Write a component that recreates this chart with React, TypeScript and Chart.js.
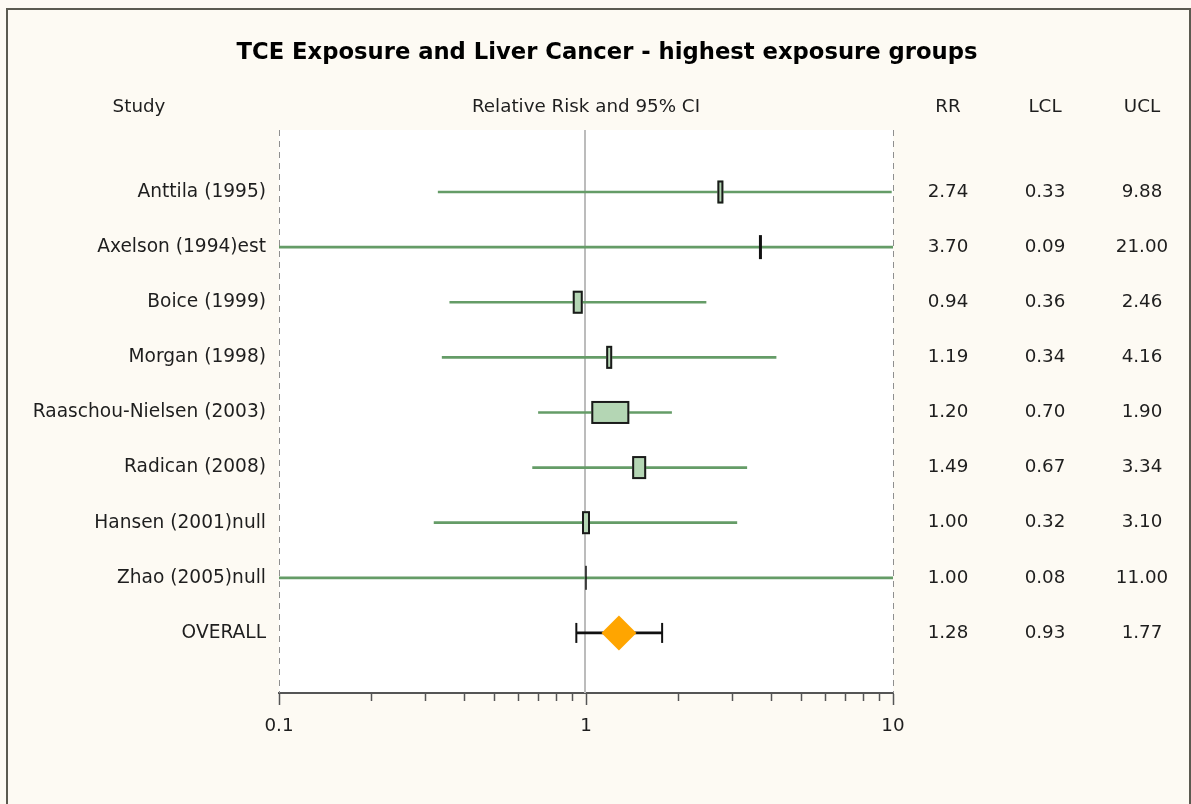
import React, { useEffect, useRef } from 'react';
import { Chart, registerables } from 'chart.js';

Chart.register(...registerables);

// ---- data ----
const studies = [
  'Anttila (1995)',
  'Axelson (1994)est',
  'Boice (1999)',
  'Morgan (1998)',
  'Raaschou-Nielsen (2003)',
  'Radican (2008)',
  'Hansen (2001)null',
  'Zhao (2005)null',
  'OVERALL',
];
const rr = [2.74, 3.7, 0.94, 1.19, 1.2, 1.49, 1.0, 1.0, 1.28];
const lcl = [0.33, 0.09, 0.36, 0.34, 0.7, 0.67, 0.32, 0.08, 0.93];
const ucl = [9.88, 21.0, 2.46, 4.16, 1.9, 3.34, 3.1, 11.0, 1.77];
// relative study weights (box size)
const weights = [6, 3, 10, 6, 38, 14, 8, 1.5];
const majorTicks = [0.1, 1, 10];
const minorTicks = [0.2, 0.3, 0.4, 0.5, 0.6, 0.7, 0.8, 0.9, 2, 3, 4, 5, 6, 7, 8, 9];
const columnHeaders = ['RR', 'LCL', 'UCL'];
const chartTitle = 'TCE Exposure and Liver Cancer - highest exposure groups';
const studyHeader = 'Study';
const ciHeader = 'Relative Risk and 95% CI';

const FONT = '"DejaVu Sans", sans-serif';
const TEXT = '#1e1e1e';
const GREEN = '#659c67';
const BOX_FILL = '#b4d6b4';
const ORANGE = '#ffa500';

const nStudies = weights.length;
const overallRow = studies.length; // 1-based row index

const forestPlugin = {
  id: 'forest',
  beforeDraw(chart: any) {
    const { ctx, width, height, chartArea: a } = chart;
    ctx.save();
    ctx.fillStyle = '#fdfaf3';
    ctx.fillRect(0, 0, width, height);
    ctx.strokeStyle = '#5b5a50';
    ctx.lineWidth = 2;
    ctx.strokeRect(7, 9, width - 8, height + 20);
    ctx.fillStyle = '#ffffff';
    ctx.fillRect(a.left, a.top, a.right - a.left, a.bottom - a.top);
    ctx.restore();
  },
  beforeDatasetsDraw(chart: any) {
    const { ctx, chartArea: a, scales } = chart;
    const x = scales.x;
    ctx.save();
    // reference line at 1
    ctx.strokeStyle = '#bcbcbc';
    ctx.lineWidth = 2;
    const px1 = Math.round(x.getPixelForValue(1)) - 1;
    ctx.beginPath();
    ctx.moveTo(px1, a.top);
    ctx.lineTo(px1, a.bottom);
    ctx.stroke();
    // dashed lines at the range ends
    ctx.strokeStyle = '#8f8f8f';
    ctx.lineWidth = 1;
    ctx.setLineDash([6, 5]);
    [majorTicks[0], majorTicks[majorTicks.length - 1]].forEach((v) => {
      const p = Math.round(x.getPixelForValue(v)) + 0.5;
      ctx.beginPath();
      ctx.moveTo(p, a.top);
      ctx.lineTo(p, a.bottom);
      ctx.stroke();
    });
    ctx.restore();
  },
  afterDatasetsDraw(chart: any) {
    const { ctx, scales } = chart;
    const x = scales.x;
    const y = scales.y;
    const h = 23;
    ctx.save();
    for (let i = 0; i < nStudies; i++) {
      const cx = x.getPixelForValue(rr[i]);
      const cy = y.getPixelForValue(i + 1);
      const w = weights[i];
      if (w <= 3) {
        ctx.fillStyle = '#111';
        ctx.fillRect(cx - w / 2, cy - h / 2 - 0.5, w, h + 1);
      } else {
        ctx.fillStyle = BOX_FILL;
        ctx.fillRect(cx - w / 2, cy - h / 2, w, h);
        ctx.strokeStyle = '#1a1a1a';
        ctx.lineWidth = 2;
        ctx.strokeRect(cx - w / 2 + 1, cy - h / 2 + 1, w - 2, h - 2);
      }
    }
    ctx.restore();
  },
  afterDraw(chart: any) {
    const { ctx, chartArea: a, scales } = chart;
    const x = scales.x;
    const y = scales.y;
    ctx.save();
    // minor ticks
    ctx.strokeStyle = '#555';
    ctx.lineWidth = 1.5;
    minorTicks.forEach((v) => {
      const p = Math.round(x.getPixelForValue(v)) + 0.5;
      ctx.beginPath();
      ctx.moveTo(p, a.bottom);
      ctx.lineTo(p, a.bottom + 8);
      ctx.stroke();
    });
    // title
    ctx.fillStyle = '#000';
    ctx.textAlign = 'center';
    ctx.textBaseline = 'middle';
    ctx.font = `bold 22.7px ${FONT}`;
    ctx.fillText(chartTitle, 607, 53);
    // headers
    ctx.fillStyle = TEXT;
    ctx.font = `18.3px ${FONT}`;
    ctx.fillText(studyHeader, 139, 107);
    ctx.fillText(ciHeader, 586, 107);
    const colX = [948, 1045, 1142];
    columnHeaders.forEach((t, k) => ctx.fillText(t, colX[k], 107));
    // values
    for (let i = 0; i < studies.length; i++) {
      const cy = y.getPixelForValue(i + 1);
      ctx.fillText(rr[i].toFixed(2), colX[0], cy);
      ctx.fillText(lcl[i].toFixed(2), colX[1], cy);
      ctx.fillText(ucl[i].toFixed(2), colX[2], cy);
    }
    ctx.restore();
  },
};

export default function App() {
  const ref = useRef<HTMLCanvasElement | null>(null);
  useEffect(() => {
    document.body.style.margin = '0';
    const canvas = ref.current;
    if (!canvas) return;
    const ciData = studies.slice(0, nStudies).map((_, i) => ({ x: [lcl[i], ucl[i]], y: i + 1 }));
    const chart = new Chart(canvas, {
      type: 'bar',
      data: {
        datasets: [
          {
            type: 'scatter',
            data: [{ x: rr[overallRow - 1], y: overallRow }],
            pointStyle: 'rectRot',
            pointRadius: 17.5,
            pointBackgroundColor: ORANGE,
            pointBorderWidth: 0,
            pointBorderColor: ORANGE,
            order: 0,
          } as any,
          {
            type: 'scatter',
            data: [
              { x: lcl[overallRow - 1], y: overallRow },
              { x: ucl[overallRow - 1], y: overallRow },
            ],
            pointStyle: 'line',
            pointRotation: 90,
            pointRadius: 10,
            pointBorderColor: '#111',
            pointBorderWidth: 2,
            order: 1,
          } as any,
          {
            type: 'bar',
            data: [{ x: [lcl[overallRow - 1], ucl[overallRow - 1]], y: overallRow }],
            backgroundColor: '#111',
            borderWidth: 0,
            barThickness: 2,
            grouped: false,
            order: 2,
          } as any,
          {
            type: 'bar',
            data: ciData,
            backgroundColor: GREEN,
            borderWidth: 0,
            barThickness: 2,
            grouped: false,
            order: 3,
          } as any,
        ],
      },
      options: {
        indexAxis: 'y',
        responsive: false,
        devicePixelRatio: 1,
        animation: false,
        events: [],
        layout: { padding: { top: 130, right: 298, bottom: 0, left: 0 } },
        plugins: {
          legend: { display: false },
          tooltip: { enabled: false },
          title: { display: false },
        },
        scales: {
          x: {
            type: 'logarithmic',
            position: 'bottom',
            min: 0.1,
            max: 10,
            offset: false,
            afterBuildTicks: (s: any) => {
              s.ticks = majorTicks.map((v) => ({ value: v, major: true }));
            },
            afterFit: (s: any) => {
              s.height = 111;
            },
            grid: {
              drawOnChartArea: false,
              drawTicks: true,
              tickLength: 12,
              tickColor: '#555',
              tickWidth: 1.5,
              color: '#555',
              offset: false,
            },
            border: { display: true, color: '#555', width: 2 },
            ticks: {
              autoSkip: false,
              maxRotation: 0,
              padding: 10,
              color: TEXT,
              font: { family: FONT, size: 18.3 },
              callback: (v: any) => String(v),
            },
          },
          y: {
            type: 'linear',
            position: 'left',
            reverse: true,
            min: -0.125,
            max: 10.09,
            offset: false,
            afterBuildTicks: (s: any) => {
              s.ticks = studies.map((_, i) => ({ value: i + 1 }));
            },
            afterFit: (s: any) => {
              s.width = 279;
            },
            grid: { display: false, drawTicks: false, offset: false },
            border: { display: false },
            ticks: {
              autoSkip: false,
              padding: 13,
              color: TEXT,
              font: { family: FONT, size: 18.6 },
              callback: (v: any) => studies[Math.round(v) - 1] ?? '',
            },
          },
        },
      } as any,
      plugins: [forestPlugin],
    });
    return () => chart.destroy();
  }, []);
  return (
    <div style={{ width: 1191, height: 804 }}>
      <canvas ref={ref} width={1191} height={804} style={{ display: 'block' }} />
    </div>
  );
}
